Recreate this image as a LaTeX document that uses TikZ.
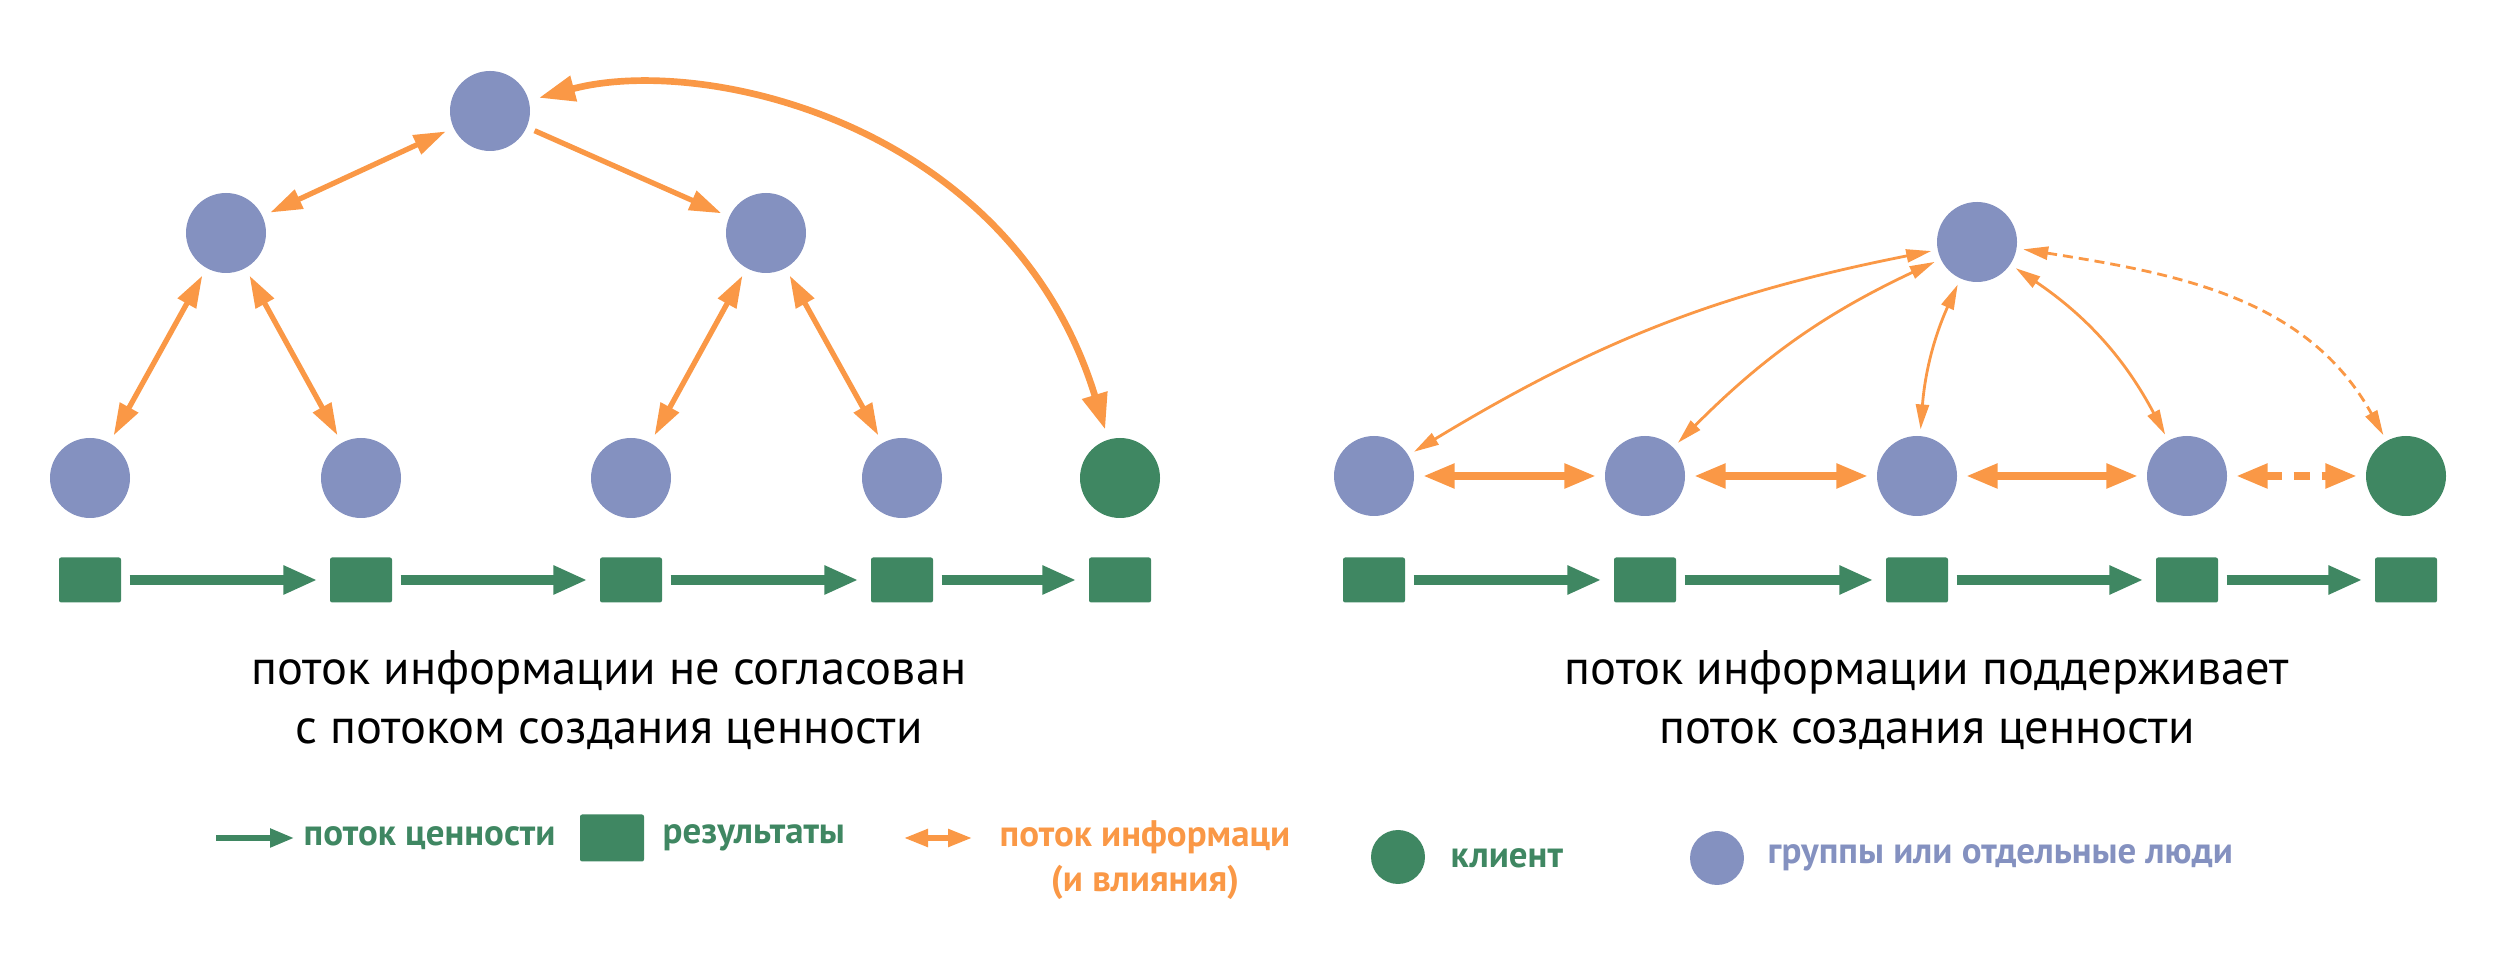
\documentclass[tikz,border=0pt]{standalone}
\usepackage{fontspec}
\setmainfont{PT Sans}
\usetikzlibrary{arrows.meta}
\definecolor{grpblue}{RGB}{132,145,192}
\definecolor{valgreen}{RGB}{63,135,98}
\definecolor{infoorange}{RGB}{250,152,70}

\begin{document}
\begin{tikzpicture}[
		grp/.style={circle, fill=grpblue, minimum size=8mm, inner sep=0pt},
		kli/.style={circle, fill=valgreen, minimum size=8mm, inner sep=0pt},
		res/.style={rectangle, rounded corners=0.6pt, fill=valgreen, minimum width=6.2mm, minimum height=4.5mm, inner sep=0pt},
		val/.style={valgreen, line width=2.6pt, -{Triangle[length=3.4mm, width=2.7mm]}, shorten <=0.8mm, shorten >=1.2mm},
		info/.style={infoorange, line width=1.5pt, {Triangle[length=3.2mm, width=2mm]}-{Triangle[length=3.2mm, width=2mm]}, shorten <=0.8mm, shorten >=0.8mm},
		thin info/.style={infoorange, line width=0.8pt, {Triangle[length=2.5mm, width=1.3mm]}-{Triangle[length=2.5mm, width=1.3mm]}, shorten <=0.6mm, shorten >=0.6mm},
		thick info/.style={infoorange, line width=2.3pt, {Triangle[length=3.2mm, width=2.3mm]}-{Triangle[length=3.2mm, width=2.3mm]}, shorten <=0.8mm, shorten >=0.8mm},
		caption/.style={font=\fontsize{13.8}{17}\selectfont, align=center},
		legend/.style={font=\fontsize{10.5}{12.8}\selectfont\bfseries, anchor=west, inner sep=0pt}
	]
	\useasboundingbox (0,0) rectangle (25,-9.71);

	% left: hierarchy
	\node[grp] (top) at (4.90,-1.11) {};
	\node[grp] (m1) at (2.26,-2.33) {};
	\node[grp] (m2) at (7.66,-2.33) {};
	\foreach \i/\x in {1/0.90,2/3.61,3/6.31,4/9.02}
		\node[grp] (b\i) at (\x,-4.78) {};
	\node[kli] (lk) at (11.20,-4.78) {};

	\draw[info] (top) -- (m1);
	\draw[info, -{Triangle[length=3.2mm, width=2mm]}] (top) -- (m2);
	\draw[info] (m1) -- (b1);
	\draw[info] (m1) -- (b2);
	\draw[info] (m2) -- (b3);
	\draw[info] (m2) -- (b4);
	\draw[info, line width=1.9pt, {Triangle[length=3.6mm, width=2.5mm]}-{Triangle[length=3.6mm, width=2.5mm]}, shorten <=1mm, shorten >=1mm]
		(lk) to[out=107, in=15, out distance=3.3cm, in distance=1.8cm] (top);

	\foreach \i/\x in {1/0.90,2/3.61,3/6.31,4/9.02,5/11.20}
		\node[res] (ls\i) at (\x,-5.80) {};
	\foreach \a/\b in {1/2,2/3,3/4,4/5}
		\draw[val] (ls\a) -- (ls\b);

	\node[caption] (lcap) at (6.09,-7.00) {поток информации не согласован\\с потоком создания ценности};

	% right: flow
	\node[grp] (rt) at (19.77,-2.42) {};
	\foreach \i/\x in {1/13.74,2/16.45,3/19.17,4/21.87}
		\node[grp] (r\i) at (\x,-4.76) {};
	\node[kli] (rk) at (24.06,-4.76) {};

	\draw[thin info] (rt) to[bend right=10] (r1);
	\draw[thin info] (rt) to[bend right=10] (r2);
	\draw[thin info] (rt) to[bend right=10] (r3);
	\draw[thin info] (rt) to[bend left=14] (r4);
	\draw[thin info, dash pattern=on 1mm off 0.6mm] (rt) to[out=-9, in=119] (rk);

	\draw[thick info] (r1) -- (r2);
	\draw[thick info] (r2) -- (r3);
	\draw[thick info] (r3) -- (r4);
	\draw[thick info, dash pattern=on 1.6mm off 1.2mm] (r4) -- (rk);

	\foreach \i/\x in {1/13.74,2/16.45,3/19.17,4/21.87,5/24.06}
		\node[res] (rs\i) at (\x,-5.80) {};
	\foreach \a/\b in {1/2,2/3,3/4,4/5}
		\draw[val] (rs\a) -- (rs\b);

	\node[caption] (rcap) at (19.27,-7.00) {поток информации поддерживает\\поток создания ценности};

	% legend
	\coordinate (lv1) at (2.16,-8.38);
	\coordinate (lv2) at (2.94,-8.38);
	\draw[val, line width=1.5pt, -{Triangle[length=2.4mm, width=1.8mm]}, shorten <=0pt, shorten >=0pt] (lv1) -- (lv2);
	\node[legend, valgreen] (lvt) at (3.03,-8.38) {поток ценности};
	\node[res, minimum width=6.4mm, minimum height=4.7mm] (lres) at (6.12,-8.38) {};
	\node[legend, valgreen] (lrest) at (6.62,-8.38) {результаты};
	\coordinate (li1) at (9.04,-8.38);
	\coordinate (li2) at (9.72,-8.38);
	\draw[info, line width=1.5pt, {Triangle[length=2.4mm, width=1.7mm]}-{Triangle[length=2.4mm, width=1.7mm]}, shorten <=0pt, shorten >=0pt] (li1) -- (li2);
	\node[legend, anchor=north, infoorange, align=center] (lit) at (11.45,-8.20) {поток информаци\\(и влияния)};
	\node[kli, minimum size=5.4mm] (lkl) at (13.98,-8.57) {};
	\node[legend, valgreen] (lklt) at (14.50,-8.58) {клиент};
	\node[grp, minimum size=5.4mm] (lgr) at (17.17,-8.58) {};
	\node[legend, grpblue] (lgrt) at (17.67,-8.58) {группы или отдельные люди};
\end{tikzpicture}
\end{document}
